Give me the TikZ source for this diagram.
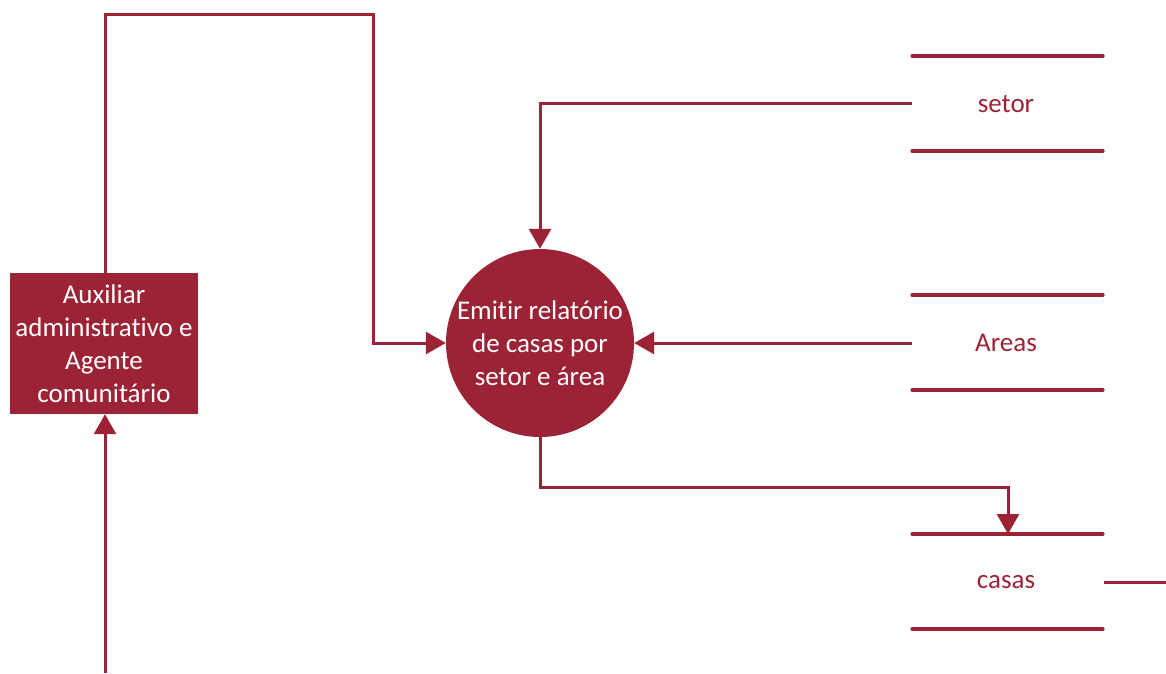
\documentclass[tikz,border=0pt]{standalone}
\usepackage{fontspec}
\setmainfont{Carlito}[Ligatures=NoCommon]
\usetikzlibrary{arrows.meta}
\definecolor{wine}{HTML}{9B2335}
\begin{document}
\begin{tikzpicture}[x=1pt,y=-1pt,
  flow/.style={draw=wine,line width=3pt,-{Triangle[width=22pt,length=20pt]}},
  plain/.style={draw=wine,line width=3pt},
  storeline/.style={draw=wine,line width=3.2pt,line cap=round},
  txt/.style={font=\fontsize{27}{33}\selectfont,align=center}]
\useasboundingbox (0,0) rectangle (1166,673);
\node[fill=wine,minimum width=188pt,minimum height=141pt,inner sep=0pt,text=white,txt] (actor) at (104,343.5)
  {Auxiliar\\administrativo e\\Agente\\comunitário};
\node[circle,fill=wine,minimum size=188pt,inner sep=0pt,text=white,txt] (proc) at (540,343)
  {Emitir relatório\\de casas por\\setor e área};
% stores
\node[txt,text=wine] (setor) at (1006,104) {setor};
\node[txt,text=wine] (areas) at (1006,343) {Areas};
\node[txt,text=wine] (casas) at (1006,582) {casas};
\draw[storeline] (912,56) -- (1103,56) (912,151) -- (1103,151);
\draw[storeline] (912,295) -- (1103,295) (912,390) -- (1103,390);
\draw[storeline] (912,534) -- (1103,534) (912,629) -- (1103,629);
\coordinate (setorin) at (912,103);
\coordinate (areasin) at (912,343);
\coordinate (casastop) at (1008,534);
\coordinate (casasout) at (1104,582);
\coordinate (casasend) at (1166,582);
\coordinate (bottom) at (105,673);
% connectors
\draw[flow] (actor.north -| 105,0) -- (105,14) -- (373,14) -- (373,343) -- (proc.west);
\draw[flow] (setorin) -- (540,103) -- (proc.north);
\draw[flow] (areasin) -- (proc.east);
\draw[flow] (proc.south) -- (540,487) -- (1008,487) -- (casastop);
\draw[plain] (casasout) -- (casasend);
\draw[flow] (bottom) -- (bottom |- actor.south);
\end{tikzpicture}
\end{document}
